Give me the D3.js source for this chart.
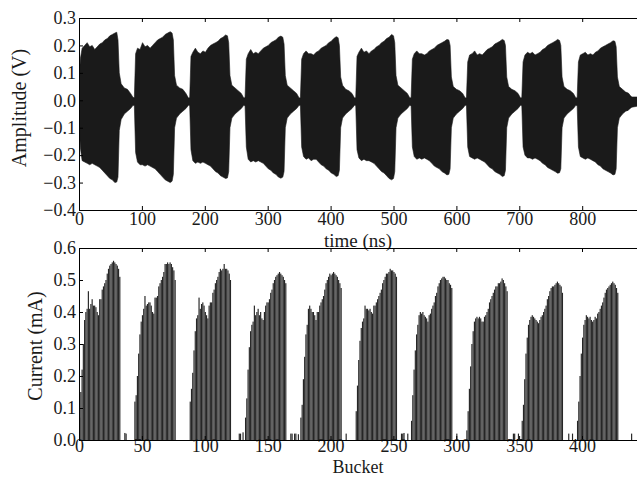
<!DOCTYPE html>
<html>
<head>
<meta charset="utf-8">
<script src="https://cdn.jsdelivr.net/npm/d3@7"></script>
<style>
  html, body { margin: 0; padding: 0; background: #ffffff; }
  svg text { font-family: "Liberation Serif", "Times New Roman", serif; fill: #1a1a1a; }
</style>
</head>
<body>
<svg id="chart" width="637" height="477"></svg>
<script>
// ---------- Pick-up waveform (top panel) ----------
// Envelope of the digitised signal, sampled at offsets (ns) inside each 88 ns train period
const envOffsets = [0, 2, 5, 9, 13, 17, 21, 25, 29, 33, 37, 41, 45, 49, 53, 57, 60, 62, 64, 67, 72, 77, 82, 86];
const trainStartNs = [0, 88, 176, 264, 352, 440, 528, 616, 704, 792];

const ampUpper = [
  [0.05, 0.15, 0.19, 0.20, 0.21, 0.195, 0.20, 0.185, 0.195, 0.205, 0.21, 0.22, 0.225, 0.235, 0.24, 0.245, 0.248, 0.22, 0.10, 0.06, 0.045, 0.04, 0.025, 0.01],
  [0.01, 0.17, 0.19, 0.185, 0.21, 0.195, 0.20, 0.19, 0.20, 0.21, 0.22, 0.225, 0.23, 0.24, 0.245, 0.25, 0.245, 0.22, 0.09, 0.055, 0.045, 0.04, 0.025, 0.008],
  [0.01, 0.16, 0.175, 0.19, 0.175, 0.17, 0.18, 0.175, 0.19, 0.20, 0.205, 0.21, 0.215, 0.225, 0.23, 0.238, 0.235, 0.21, 0.09, 0.055, 0.045, 0.035, 0.025, 0.008],
  [0.01, 0.15, 0.17, 0.185, 0.17, 0.175, 0.17, 0.18, 0.19, 0.195, 0.20, 0.21, 0.215, 0.22, 0.23, 0.234, 0.23, 0.205, 0.09, 0.055, 0.045, 0.035, 0.025, 0.008],
  [0.01, 0.15, 0.17, 0.18, 0.17, 0.17, 0.165, 0.175, 0.18, 0.19, 0.195, 0.20, 0.21, 0.215, 0.225, 0.232, 0.228, 0.20, 0.085, 0.055, 0.04, 0.035, 0.025, 0.008],
  [0.01, 0.16, 0.175, 0.19, 0.175, 0.18, 0.17, 0.18, 0.185, 0.195, 0.20, 0.21, 0.215, 0.225, 0.23, 0.24, 0.235, 0.21, 0.09, 0.055, 0.045, 0.035, 0.025, 0.008],
  [0.01, 0.15, 0.17, 0.18, 0.17, 0.17, 0.165, 0.17, 0.18, 0.185, 0.19, 0.20, 0.205, 0.21, 0.215, 0.222, 0.22, 0.20, 0.085, 0.05, 0.04, 0.035, 0.025, 0.008],
  [0.01, 0.14, 0.165, 0.17, 0.18, 0.165, 0.17, 0.165, 0.175, 0.185, 0.19, 0.195, 0.205, 0.21, 0.215, 0.222, 0.218, 0.20, 0.085, 0.05, 0.04, 0.035, 0.025, 0.008],
  [0.01, 0.14, 0.165, 0.175, 0.17, 0.175, 0.165, 0.17, 0.175, 0.185, 0.19, 0.20, 0.205, 0.21, 0.215, 0.222, 0.218, 0.20, 0.085, 0.05, 0.04, 0.035, 0.025, 0.008],
  [0.01, 0.14, 0.165, 0.17, 0.175, 0.165, 0.17, 0.165, 0.175, 0.18, 0.19, 0.195, 0.20, 0.205, 0.21, 0.217, 0.215, 0.195, 0.085, 0.05, 0.04, 0.03, 0.025, 0.01]
];
const ampLower = [
  [-0.05, -0.17, -0.22, -0.225, -0.23, -0.235, -0.23, -0.235, -0.24, -0.245, -0.255, -0.265, -0.275, -0.285, -0.29, -0.30, -0.298, -0.28, -0.11, -0.07, -0.05, -0.04, -0.03, -0.018],
  [-0.02, -0.19, -0.225, -0.235, -0.235, -0.24, -0.235, -0.24, -0.245, -0.25, -0.26, -0.27, -0.28, -0.29, -0.295, -0.30, -0.295, -0.27, -0.10, -0.065, -0.05, -0.04, -0.03, -0.018],
  [-0.02, -0.18, -0.22, -0.23, -0.225, -0.23, -0.225, -0.23, -0.235, -0.24, -0.25, -0.26, -0.265, -0.275, -0.28, -0.285, -0.283, -0.26, -0.10, -0.065, -0.05, -0.04, -0.03, -0.018],
  [-0.02, -0.17, -0.215, -0.225, -0.22, -0.225, -0.22, -0.225, -0.23, -0.24, -0.25, -0.255, -0.265, -0.27, -0.28, -0.284, -0.28, -0.26, -0.10, -0.065, -0.05, -0.04, -0.03, -0.018],
  [-0.02, -0.17, -0.205, -0.215, -0.21, -0.22, -0.215, -0.215, -0.225, -0.235, -0.24, -0.25, -0.255, -0.265, -0.27, -0.278, -0.275, -0.255, -0.10, -0.065, -0.05, -0.04, -0.03, -0.018],
  [-0.02, -0.18, -0.21, -0.22, -0.215, -0.22, -0.22, -0.225, -0.23, -0.24, -0.25, -0.26, -0.265, -0.275, -0.285, -0.29, -0.285, -0.26, -0.10, -0.065, -0.05, -0.04, -0.03, -0.018],
  [-0.02, -0.17, -0.205, -0.215, -0.21, -0.215, -0.21, -0.215, -0.22, -0.23, -0.24, -0.245, -0.25, -0.26, -0.265, -0.272, -0.27, -0.25, -0.10, -0.065, -0.05, -0.04, -0.03, -0.018],
  [-0.02, -0.17, -0.205, -0.21, -0.215, -0.21, -0.215, -0.22, -0.225, -0.235, -0.245, -0.25, -0.26, -0.265, -0.27, -0.278, -0.275, -0.255, -0.10, -0.065, -0.05, -0.04, -0.03, -0.018],
  [-0.02, -0.17, -0.20, -0.21, -0.21, -0.215, -0.21, -0.215, -0.22, -0.23, -0.235, -0.245, -0.25, -0.255, -0.26, -0.266, -0.264, -0.25, -0.10, -0.065, -0.05, -0.04, -0.03, -0.018],
  [-0.02, -0.17, -0.205, -0.21, -0.215, -0.21, -0.215, -0.22, -0.225, -0.235, -0.24, -0.25, -0.255, -0.26, -0.265, -0.272, -0.27, -0.25, -0.10, -0.065, -0.05, -0.04, -0.035, -0.02]
];
// Ring-down after the last train
const tailNs = [871, 879, 887, 900];
const tailUpper = [0.028, 0.012, 0.012, 0.005];
const tailLower = [-0.038, -0.025, -0.022, -0.01];

// ---------- Bunch currents (bottom panel) ----------
const trainStartBucket = [0, 44, 88, 132, 176, 220, 264, 308, 352, 396];
const trainCurrents = [
  [0.07, 0.15, 0.22, 0.30, 0.375, 0.40, 0.41, 0.465, 0.41, 0.425, 0.44, 0.42, 0.42, 0.415, 0.40, 0.39, 0.44, 0.44, 0.47, 0.48, 0.49, 0.50, 0.52, 0.535, 0.545, 0.55, 0.555, 0.56, 0.555, 0.55, 0.545, 0.535, 0.51],
  [0.12, 0.14, 0.20, 0.27, 0.33, 0.37, 0.39, 0.41, 0.45, 0.42, 0.425, 0.43, 0.43, 0.42, 0.40, 0.395, 0.445, 0.445, 0.45, 0.48, 0.49, 0.50, 0.51, 0.525, 0.55, 0.55, 0.555, 0.55, 0.555, 0.55, 0.54, 0.53, 0.50],
  [0.12, 0.16, 0.21, 0.28, 0.34, 0.38, 0.39, 0.445, 0.41, 0.425, 0.43, 0.42, 0.40, 0.39, 0.38, 0.42, 0.43, 0.43, 0.46, 0.47, 0.49, 0.50, 0.51, 0.525, 0.535, 0.53, 0.535, 0.55, 0.535, 0.535, 0.53, 0.52, 0.50],
  [0.07, 0.13, 0.22, 0.29, 0.34, 0.36, 0.37, 0.42, 0.39, 0.40, 0.41, 0.39, 0.40, 0.38, 0.375, 0.40, 0.42, 0.43, 0.43, 0.44, 0.46, 0.47, 0.49, 0.50, 0.51, 0.515, 0.52, 0.525, 0.52, 0.515, 0.51, 0.50, 0.49],
  [0.07, 0.11, 0.19, 0.26, 0.33, 0.36, 0.41, 0.42, 0.41, 0.40, 0.40, 0.39, 0.375, 0.40, 0.40, 0.42, 0.43, 0.44, 0.45, 0.47, 0.49, 0.50, 0.51, 0.52, 0.515, 0.52, 0.525, 0.52, 0.515, 0.51, 0.50, 0.49, 0.475],
  [0.09, 0.17, 0.25, 0.31, 0.35, 0.37, 0.38, 0.42, 0.41, 0.41, 0.405, 0.41, 0.40, 0.395, 0.42, 0.42, 0.43, 0.44, 0.45, 0.46, 0.47, 0.49, 0.50, 0.51, 0.52, 0.52, 0.525, 0.535, 0.53, 0.53, 0.525, 0.52, 0.51],
  [0.06, 0.14, 0.22, 0.28, 0.33, 0.36, 0.39, 0.40, 0.395, 0.40, 0.39, 0.385, 0.38, 0.37, 0.39, 0.395, 0.41, 0.42, 0.43, 0.45, 0.46, 0.48, 0.49, 0.50, 0.505, 0.51, 0.51, 0.505, 0.50, 0.50, 0.49, 0.485, 0.475],
  [0.03, 0.09, 0.16, 0.23, 0.30, 0.34, 0.37, 0.38, 0.385, 0.38, 0.385, 0.38, 0.37, 0.37, 0.385, 0.39, 0.40, 0.41, 0.43, 0.44, 0.45, 0.46, 0.47, 0.48, 0.48, 0.49, 0.49, 0.495, 0.505, 0.50, 0.49, 0.48, 0.465],
  [0.06, 0.11, 0.19, 0.27, 0.32, 0.36, 0.375, 0.385, 0.39, 0.385, 0.38, 0.375, 0.37, 0.365, 0.375, 0.385, 0.39, 0.40, 0.41, 0.42, 0.44, 0.45, 0.465, 0.475, 0.48, 0.48, 0.485, 0.49, 0.495, 0.49, 0.485, 0.48, 0.46],
  [0.06, 0.12, 0.20, 0.27, 0.32, 0.36, 0.375, 0.39, 0.385, 0.38, 0.385, 0.375, 0.37, 0.375, 0.385, 0.38, 0.395, 0.40, 0.41, 0.42, 0.43, 0.445, 0.46, 0.47, 0.475, 0.48, 0.485, 0.49, 0.495, 0.49, 0.485, 0.475, 0.46]
];
// Small satellite bunches in the gaps between trains
const satelliteBucket = [36, 37, 127, 128, 130, 168, 169, 171, 172, 174, 212, 256, 257, 258, 261, 300, 345, 346, 349, 389, 392, 439];
const satelliteCurrent = [0.022, 0.02, 0.02, 0.02, 0.024, 0.02, 0.02, 0.02, 0.02, 0.018, 0.02, 0.02, 0.02, 0.022, 0.02, 0.02, 0.02, 0.02, 0.02, 0.02, 0.02, 0.02];

// ---------- Tick values ----------
const timeTicks = [0, 100, 200, 300, 400, 500, 600, 700, 800];
const ampTicks = [-0.4, -0.3, -0.2, -0.1, 0.0, 0.1, 0.2, 0.3];
const bucketTicks = [0, 50, 100, 150, 200, 250, 300, 350, 400];
const currentTicks = [0.0, 0.1, 0.2, 0.3, 0.4, 0.5, 0.6];

// ---------- Drawing ----------
const svg = d3.select("#chart");
const left = 79;
const fmt1 = d3.format(".1f");
const inkColor = "#1a1a1a";
const tickFont = 18;
const labelFont = 19;

function frame(g, x0, x1, y0, y1) {
  g.append("path")
    .attr("d", `M${x1 + 5},${y0}H${x0}V${y1}H${x1 + 5}`)
    .attr("fill", "none").attr("stroke", "#000").attr("stroke-width", 1)
    .attr("shape-rendering", "crispEdges");
}

function styleAxis(g) {
  g.select(".domain").remove();
  g.selectAll(".tick line").attr("stroke", "#000").attr("stroke-width", 1);
  g.selectAll(".tick text").attr("font-size", tickFont).attr("fill", inkColor);
}

// ----- Top panel -----
const topY0 = 18, topY1 = 210;
const xT = d3.scaleLinear().domain([0, 900]).range([left, left + 900 * 0.629]);
const yT = d3.scaleLinear().domain([-0.4, 0.3]).range([topY1, topY0]);

svg.append("clipPath").attr("id", "clipTop")
  .append("rect").attr("x", left).attr("y", topY0).attr("width", 600).attr("height", topY1 - topY0);

const envPoints = [];
trainStartNs.forEach((t0, k) => {
  envOffsets.forEach((o, j) => envPoints.push({ t: t0 + o, hi: ampUpper[k][j], lo: ampLower[k][j] }));
});
tailNs.forEach((t, i) => envPoints.push({ t, hi: tailUpper[i], lo: tailLower[i] }));

const area = d3.area()
  .x(d => xT(d.t))
  .y0(d => yT(d.lo))
  .y1(d => yT(d.hi));

svg.append("g").attr("clip-path", "url(#clipTop)")
  .append("path")
  .datum(envPoints)
  .attr("d", area)
  .attr("fill", inkColor)
  .attr("stroke", inkColor)
  .attr("stroke-width", 0.6);

const topAxes = svg.append("g");
topAxes.append("g").attr("transform", `translate(0,${topY1})`)
  .call(d3.axisBottom(xT).tickValues(timeTicks).tickSize(-4).tickPadding(2).tickFormat(d3.format("d")))
  .call(styleAxis);
topAxes.append("g").attr("transform", `translate(0,${topY0})`)
  .call(d3.axisTop(xT).tickValues(timeTicks).tickSize(-4).tickFormat(""))
  .call(styleAxis);
topAxes.append("g").attr("transform", `translate(${left},0)`)
  .call(d3.axisLeft(yT).tickValues(ampTicks).tickSize(-4).tickPadding(3).tickFormat(fmt1))
  .call(styleAxis);
frame(topAxes, left, 637, topY0, topY1);

svg.append("text")
  .attr("transform", `translate(26,108) rotate(-90)`)
  .attr("text-anchor", "middle")
  .attr("font-size", labelFont + 1)
  .text("Amplitude (V)");
svg.append("text")
  .attr("x", 358).attr("y", 247)
  .attr("text-anchor", "middle")
  .attr("font-size", labelFont)
  .text("time (ns)");

// ----- Bottom panel -----
const botY0 = 248, botY1 = 440;
const xB = d3.scaleLinear().domain([0, 450]).range([left, left + 450 * 1.2575]);
const yB = d3.scaleLinear().domain([0, 0.6]).range([botY1, botY0]);

const bars = [];
trainStartBucket.forEach((b0, k) => {
  trainCurrents[k].forEach((v, i) => bars.push({ bucket: b0 + i, value: v }));
});
satelliteBucket.forEach((b, i) => bars.push({ bucket: b, value: satelliteCurrent[i] }));

const barW = (xB(1) - xB(0)) * 0.92;
svg.append("g")
  .selectAll("rect")
  .data(bars)
  .join("rect")
  .attr("x", d => xB(d.bucket))
  .attr("y", d => yB(d.value))
  .attr("width", barW)
  .attr("height", d => yB(0) - yB(d.value))
  .attr("fill", "#262626");

const botAxes = svg.append("g");
botAxes.append("g").attr("transform", `translate(0,${botY1})`)
  .call(d3.axisBottom(xB).tickValues(bucketTicks).tickSize(-4).tickPadding(1).tickFormat(d3.format("d")))
  .call(styleAxis)
  .call(g => g.selectAll(".tick text").attr("dy", "0.62em"));
botAxes.append("g").attr("transform", `translate(0,${botY0})`)
  .call(d3.axisTop(xB).tickValues(bucketTicks).tickSize(-4).tickFormat(""))
  .call(styleAxis);
botAxes.append("g").attr("transform", `translate(${left},0)`)
  .call(d3.axisLeft(yB).tickValues(currentTicks).tickSize(-4).tickPadding(3).tickFormat(fmt1))
  .call(styleAxis);
frame(botAxes, left, 637, botY0, botY1);

svg.append("text")
  .attr("transform", `translate(42,346) rotate(-90)`)
  .attr("text-anchor", "middle")
  .attr("font-size", labelFont + 1)
  .text("Current (mA)");
svg.append("text")
  .attr("x", 358).attr("y", 473)
  .attr("text-anchor", "middle")
  .attr("font-size", 18)
  .text("Bucket");
</script>
</body>
</html>
